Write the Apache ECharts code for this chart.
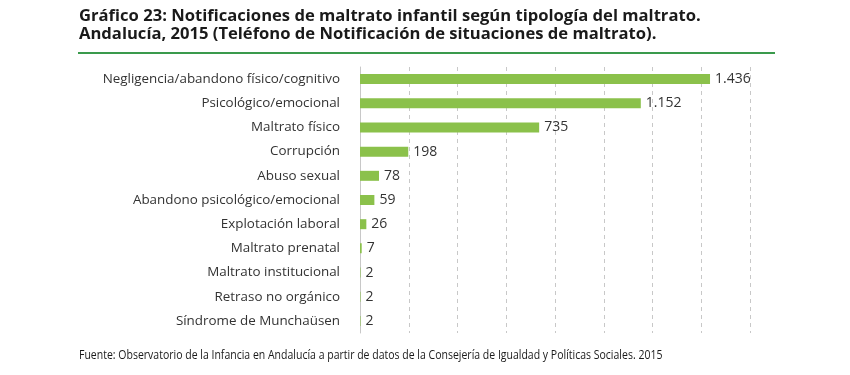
<!DOCTYPE html>
<html>
<head>
<meta charset="utf-8">
<script src="https://cdn.jsdelivr.net/npm/echarts@6/dist/echarts.min.js"></script>
<style>
  html, body { margin: 0; padding: 0; background: #fff; }
  #chart { width: 850px; height: 375px; }
</style>
</head>
<body>
<div id="chart"></div>
<script>
// datos del gráfico
const categorias = [
    "Negligencia/abandono físico/cognitivo",
    "Psicológico/emocional",
    "Maltrato físico",
    "Corrupción",
    "Abuso sexual",
    "Abandono psicológico/emocional",
    "Explotación laboral",
    "Maltrato prenatal",
    "Maltrato institucional",
    "Retraso no orgánico",
    "Síndrome de Munchaüsen"
];
const notificaciones = [1436, 1152, 735, 198, 78, 59, 26, 7, 2, 2, 2];

const titulo = "Gráfico 23: Notificaciones de maltrato infantil según tipología del maltrato.\nAndalucía, 2015 (Teléfono de Notificación de situaciones de maltrato).";
const fuente = "Fuente: Observatorio de la Infancia en Andalucía a partir de datos de la Consejería de Igualdad y Políticas Sociales. 2015";

// formato español: 1.436
function formato(v) {
    return String(v).replace(/\B(?=(\d{3})+(?!\d))/g, ".");
}

(function(){
    const myChart = echarts.init(document.getElementById("chart"));
    const option = {
        animation: false,
        textStyle: { fontFamily: "Open Sans" },
        grid: {
            left: 360,
            right: 100,
            top: 67,
            bottom: 42
        },
        graphic: [
            {
                type: "text",
                left: 79,
                top: 7,
                style: {
                    text: titulo,
                    font: "bold 16.6px 'Open Sans'",
                    fill: "#1a1a1a",
                    lineHeight: 18.5
                }
            },
            {
                type: "rect",
                shape: { x: 78, y: 52, width: 697, height: 2 },
                style: { fill: "#3a9a4c" }
            },
            {
                type: "text",
                x: 79,
                y: 349,
                scaleX: 0.84,
                style: {
                    text: fuente,
                    font: "12.5px 'Open Sans'",
                    fill: "#1a1a1a"
                }
            }
        ],
        xAxis: {
            type: "value",
            min: 0,
            max: 1600,
            interval: 200,
            axisLabel: { show: false },
            axisLine: { show: false },
            axisTick: { show: false },
            splitLine: {
                lineStyle: { color: "#c8c8c8", type: [4, 4] }
            }
        },
        yAxis: {
            type: "category",
            inverse: true,
            data: categorias,
            axisLine: { lineStyle: { color: "#c8c8c8" } },
            axisTick: { length: 5, lineStyle: { color: "#c8c8c8" } },
            axisLabel: {
                color: "#333",
                fontSize: 13.4,
                margin: 20
            }
        },
        series: [
            {
                type: "bar",
                data: notificaciones,
                barWidth: 10,
                itemStyle: { color: "#8bc14b" },
                label: {
                    show: true,
                    position: "right",
                    distance: 5,
                    color: "#333",
                    fontSize: 14,
                    formatter: p => formato(p.value)
                }
            }
        ]
    };
    myChart.setOption(option);

    window.addEventListener("resize", function() {
        myChart.resize();
    });
})();
</script>
</body>
</html>
